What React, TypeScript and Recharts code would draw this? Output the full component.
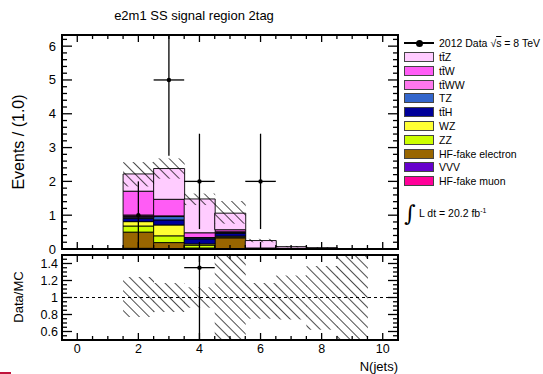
import React from "react";
import {
  ComposedChart,
  Bar,
  Scatter,
  ErrorBar,
  XAxis,
  YAxis,
  ReferenceLine,
  ReferenceArea,
} from "recharts";

// jet multiplicity bins
const bins = [0, 1, 2, 3, 4, 5, 6, 7, 8, 9, 10];

// stacked MC, per bin (bottom of stack first)
const hfMuon = [0, 0, 0.02, 0.01, 0.01, 0, 0, 0, 0, 0, 0];
const vvv = [0, 0, 0, 0, 0, 0, 0, 0, 0, 0, 0];
const hfElectron = [0, 0, 0.48, 0.18, 0.02, 0.33, 0, 0, 0, 0, 0];
const zz = [0, 0, 0.18, 0.2, 0.08, 0.02, 0, 0, 0, 0, 0];
const wz = [0, 0, 0.13, 0.32, 0.04, 0.03, 0, 0, 0, 0, 0];
const ttH = [0, 0, 0.09, 0.15, 0.15, 0.08, 0.02, 0.02, 0.01, 0, 0];
const tz = [0, 0, 0.04, 0.1, 0.03, 0.03, 0, 0, 0, 0, 0];
const ttWW = [0, 0, 0.02, 0.02, 0.01, 0.02, 0, 0, 0, 0, 0];
const ttW = [0, 0, 0.75, 0.49, 0.14, 0.06, 0.01, 0, 0, 0, 0];
const ttZ = [0, 0, 0.51, 0.91, 1.0, 0.49, 0.22, 0.05, 0.03, 0, 0];

// 2012 data
const dataX = [2, 3, 4, 6];
const dataN = [1, 5, 2, 2];
const dataErr = [1, 2.24, 1.41, 1.41];

// uncertainty band, top panel
const bandBins = [2, 3, 4, 5, 6, 7, 8];
const bandLo = [1.85, 2.08, 1.3, 0.75, 0.2, 0.05, 0.02];
const bandHi = [2.57, 2.68, 1.64, 1.42, 0.3, 0.09, 0.05];

// uncertainty band, ratio panel
const ratioBins = [2, 3, 4, 5, 6, 7, 8, 9];
const ratioLo = [0.77, 0.83, 0.88, 0.4, 0.75, 0.74, 0.62, 0.4];
const ratioHi = [1.24, 1.17, 1.12, 1.6, 1.17, 1.26, 1.37, 1.6];

// axis ticks
const xMajor = [0, 2, 4, 6, 8, 10];
const topYMajor = [0, 1, 2, 3, 4, 5, 6];
const ratioYMajor = [0.6, 0.8, 1, 1.2, 1.4];

const series = [
  { key: "hfMuon", name: "HF-fake muon", color: "#FF0099", values: hfMuon },
  { key: "vvv", name: "VVV", color: "#6600CC", values: vvv },
  { key: "hfElectron", name: "HF-fake electron", color: "#996600", values: hfElectron },
  { key: "zz", name: "ZZ", color: "#CCFF00", values: zz },
  { key: "wz", name: "WZ", color: "#FFFF33", values: wz },
  { key: "ttH", name: "tt\u0304H", color: "#000099", values: ttH },
  { key: "tz", name: "TZ", color: "#3366CC", values: tz },
  { key: "ttWW", name: "tt\u0304WW", color: "#FF77EE", values: ttWW },
  { key: "ttW", name: "tt\u0304W", color: "#FF5CF5", values: ttW },
  { key: "ttZ", name: "tt\u0304Z", color: "#FFCCFF", values: ttZ },
];

const FONT = '"Liberation Sans", Arial, Helvetica, sans-serif';
const TOP_MAX = 6.33;
const X_DOMAIN: [number, number] = [-0.5, 10.5];
const TOP_Y: [number, number] = [0, TOP_MAX];
const RATIO_Y: [number, number] = [0.5, 1.5];

const stackRows = bins.map((b, i) => {
  const row: Record<string, number> = { x: b };
  series.forEach((s) => (row[s.key] = s.values[i]));
  return row;
});
const totals = bins.map((_, i) => series.reduce((t, s) => t + s.values[i], 0));

const bandRows = bandBins.map((b, i) => ({ x: b, band: [bandLo[i], bandHi[i]] }));
const ratioRows = ratioBins.map((b, i) => ({ x: b, band: [ratioLo[i], ratioHi[i]] }));

const points = dataX.map((x, i) => ({ x, y: dataN[i], ex: 0.5, ey: dataErr[i] }));
// ROOT skips ratio points whose centre is outside the frame
const ratioPoints = dataX
  .map((x, i) => {
    const t = totals[bins.indexOf(x)];
    return { x, y: dataN[i] / t, ex: 0.5, ey: dataErr[i] / t };
  })
  .filter((p) => p.y >= RATIO_Y[0] && p.y <= RATIO_Y[1]);

const steps = (a: number, b: number, s: number) =>
  Array.from({ length: Math.round((b - a) / s) + 1 }, (_, i) => +(a + i * s).toFixed(3));

const xTicks = steps(0, 10, 0.5);
const topYTicks = steps(0, 6.2, 0.2);
const ratioYTicks = steps(0.5, 1.5, 0.05);

// plot area: x 62..398, top panel y 35..249, ratio panel y 255..340
const PLOT_W = 336;
const TOP_H = 214;
const RATIO_H = 85;
const topMargin = { top: 35, right: 145, bottom: 124, left: 61 };
const ratioMargin = { top: 255, right: 145, bottom: 33, left: 61 };
const topClip = "inset(35px 145px 125px 62px)";
const ratioClip = "inset(255px 145px 34px 62px)";

type TickOpts = {
  side: "left" | "bottom";
  majors: number[];
  major: number;
  minor: number;
  span: number; // distance to the opposite frame edge, for the mirrored tick
  label?: boolean;
  fontSize?: number;
  gap?: number;
};

// ROOT style: ticks point inwards, and are mirrored on the opposite edge
function makeTick(o: TickOpts) {
  return (props: any) => {
    const { x, y, payload } = props;
    const v = payload.value;
    const big = o.majors.some((m) => Math.abs(m - v) < 1e-6);
    const len = big ? o.major : o.minor;
    const txt = String(Math.round(v * 100) / 100);
    const st = { stroke: "#000", strokeWidth: 1.3 };
    if (o.side === "left") {
      return (
        <g>
          <line x1={x} y1={y} x2={x + len} y2={y} {...st} />
          <line x1={x + o.span} y1={y} x2={x + o.span - len} y2={y} {...st} />
          {o.label && big && (
            <text x={x - (o.gap ?? 5)} y={y} textAnchor="end" dominantBaseline="central"
              fontSize={o.fontSize} fontFamily={FONT} fill="#000">{txt}</text>
          )}
        </g>
      );
    }
    return (
      <g>
        <line x1={x} y1={y} x2={x} y2={y - len} {...st} />
        <line x1={x} y1={y - o.span} x2={x} y2={y - o.span + len} {...st} />
        {o.label && big && (
          <text x={x} y={y + (o.gap ?? 9)} textAnchor="middle" dominantBaseline="central"
            fontSize={o.fontSize} fontFamily={FONT} fill="#000">{txt}</text>
        )}
      </g>
    );
  };
}

type AxesOpts = {
  yTicks: number[];
  yMajor: number[];
  yDomain: [number, number];
  height: number;
  xLabels: boolean;
  yFont: number;
  yGap: number;
  ghost?: boolean;
};

function frameAxes(o: AxesOpts) {
  const common = { type: "number" as const, allowDataOverflow: true, interval: 0 as const, tickSize: 0, tickMargin: 0, tickLine: false };
  const line = o.ghost ? false : { stroke: "#000", strokeWidth: 2 };
  return [
    <XAxis key="xb" dataKey="x" domain={X_DOMAIN} ticks={xTicks} height={1} {...common}
      axisLine={line}
      tick={o.ghost ? false : makeTick({ side: "bottom", majors: xMajor, major: 7, minor: 4, span: o.height, label: o.xLabels, fontSize: 12.5, gap: 9 })} />,
    <YAxis key="yl" domain={o.yDomain} ticks={o.yTicks} width={1} {...common}
      axisLine={line}
      tick={o.ghost ? false : makeTick({ side: "left", majors: o.yMajor, major: 10, minor: 5, span: PLOT_W, label: true, fontSize: o.yFont, gap: o.yGap })} />,
  ];
}

const topAxes = { yTicks: topYTicks, yMajor: topYMajor, yDomain: TOP_Y, height: TOP_H, xLabels: false, yFont: 13, yGap: 6 };
const ratioAxes = { yTicks: ratioYTicks, yMajor: ratioYMajor, yDomain: RATIO_Y, height: RATIO_H, xLabels: true, yFont: 12.5, yGap: 4 };

const dot = (p: any) => <circle cx={p.cx} cy={p.cy} r={2.2} fill="#000" />;

function Hatch({ id }: { id: string }) {
  return (
    <defs>
      <pattern id={id} width={7} height={7} patternUnits="userSpaceOnUse" patternTransform="rotate(-45)">
        <line x1={0} y1={0} x2={0} y2={7} stroke="#000" strokeWidth={1.4} />
      </pattern>
    </defs>
  );
}

function DataPoints({ rows }: { rows: any[] }) {
  return (
    <Scatter data={rows} dataKey="y" shape={dot} isAnimationActive={false}>
      <ErrorBar dataKey="ey" direction="y" width={0} stroke="#000" strokeWidth={1.3} />
      <ErrorBar dataKey="ex" direction="x" width={0} stroke="#000" strokeWidth={1.3} />
    </Scatter>
  );
}

function Frame({ yDomain }: { yDomain: [number, number] }) {
  return (
    <ReferenceArea x1={X_DOMAIN[0]} x2={X_DOMAIN[1]} y1={yDomain[0]} y2={yDomain[1]}
      fill="none" fillOpacity={0} stroke="#000" strokeWidth={2} ifOverflow="visible" />
  );
}

const abs = (s: React.CSSProperties): React.CSSProperties => ({ position: "absolute", ...s });

export default function App() {
  const legendRows = [...series].reverse();
  const chartProps = { width: 543, height: 374, barCategoryGap: 0, barGap: 0 };
  return (
    <div style={abs({ left: 0, top: 0, width: 543, height: 374, background: "#fff", fontFamily: FONT, overflow: "hidden" })}>
      {/* stacked MC */}
      <div style={abs({ left: 0, top: 0, clipPath: topClip })}>
        <ComposedChart {...chartProps} data={stackRows} margin={topMargin}>
          {frameAxes({ ...topAxes, ghost: true })}
          {series.map((s) => (
            <Bar key={s.key} dataKey={s.key} stackId="mc" fill={s.color} stroke="#000"
              strokeWidth={0.9} isAnimationActive={false} />
          ))}
        </ComposedChart>
      </div>

      {/* uncertainty band and data */}
      <div style={abs({ left: 0, top: 0, clipPath: topClip })}>
        <ComposedChart {...chartProps} data={bandRows} margin={topMargin}>
          <Hatch id="hatchTop" />
          {frameAxes({ ...topAxes, ghost: true })}
          <Bar dataKey="band" fill="url(#hatchTop)" isAnimationActive={false} />
          {DataPoints({ rows: points })}
        </ComposedChart>
      </div>

      {/* top frame */}
      <div style={abs({ left: 0, top: 0 })}>
        <ComposedChart {...chartProps} data={bandRows} margin={topMargin}>
          {frameAxes(topAxes)}
          {Frame({ yDomain: TOP_Y })}
        </ComposedChart>
      </div>

      {/* ratio panel */}
      <div style={abs({ left: 0, top: 0, clipPath: ratioClip })}>
        <ComposedChart {...chartProps} data={ratioRows} margin={ratioMargin}>
          <Hatch id="hatchRatio" />
          {frameAxes({ ...ratioAxes, ghost: true })}
          <Bar dataKey="band" fill="url(#hatchRatio)" isAnimationActive={false} />
          <ReferenceLine y={1} stroke="#000" strokeWidth={1} strokeDasharray="3 3" />
          {DataPoints({ rows: ratioPoints })}
        </ComposedChart>
      </div>
      <div style={abs({ left: 0, top: 0 })}>
        <ComposedChart {...chartProps} data={ratioRows} margin={ratioMargin}>
          {frameAxes(ratioAxes)}
          {Frame({ yDomain: RATIO_Y })}
        </ComposedChart>
      </div>

      {/* titles */}
      <div style={abs({ left: 194, top: 15, transform: "translate(-50%, -50%)", fontSize: 13, whiteSpace: "nowrap" })}>
        e2m1 SS signal region 2tag
      </div>
      <div style={abs({ left: 19, top: 142, transform: "translate(-50%, -50%) rotate(-90deg)", fontSize: 16, whiteSpace: "nowrap" })}>
        Events / (1.0)
      </div>
      <div style={abs({ left: 18, top: 297, transform: "translate(-50%, -50%) rotate(-90deg)", fontSize: 13, whiteSpace: "nowrap" })}>
        Data/MC
      </div>
      <div style={abs({ right: 543 - 398, top: 366, transform: "translateY(-50%)", fontSize: 13, whiteSpace: "nowrap" })}>
        N(jets)
      </div>

      {/* legend */}
      <div style={abs({ left: 404, top: 43, width: 30, height: 0 })}>
        <div style={abs({ left: 0, top: -0.75, width: 30, height: 1.5, background: "#000" })} />
        <div style={abs({ left: 11.5, top: -3.5, width: 7, height: 7, borderRadius: 4, background: "#000" })} />
      </div>
      <div style={abs({ left: 439, top: 43, transform: "translateY(-50%)", fontSize: 10.5, whiteSpace: "nowrap" })}>
        2012 Data {"\u221A"}<span style={{ textDecoration: "overline" }}>s</span> = 8 TeV
      </div>
      {legendRows.map((s, i) => (
        <React.Fragment key={s.key}>
          <div style={abs({ left: 404, top: 57 + i * 13.8 - 5, width: 28, height: 8, background: s.color, border: "1px solid #444" })} />
          <div style={abs({ left: 439, top: 57 + i * 13.8, transform: "translateY(-50%)", fontSize: 10.5, whiteSpace: "nowrap" })}>
            {s.name}
          </div>
        </React.Fragment>
      ))}
      <div style={abs({ left: 404, top: 214, transform: "translateY(-50%)", fontSize: 22, fontFamily: '"DejaVu Serif", serif', lineHeight: 1 })}>
        {"\u222B"}
      </div>
      <div style={abs({ left: 419, top: 213, transform: "translateY(-50%)", fontSize: 10.5, whiteSpace: "nowrap" })}>
        L dt = 20.2 fb<sup style={{ fontSize: 7 }}>-1</sup>
      </div>

      <div style={abs({ left: 0, top: 371.5, width: 11, height: 2.5, background: "#C0143C" })} />
    </div>
  );
}
